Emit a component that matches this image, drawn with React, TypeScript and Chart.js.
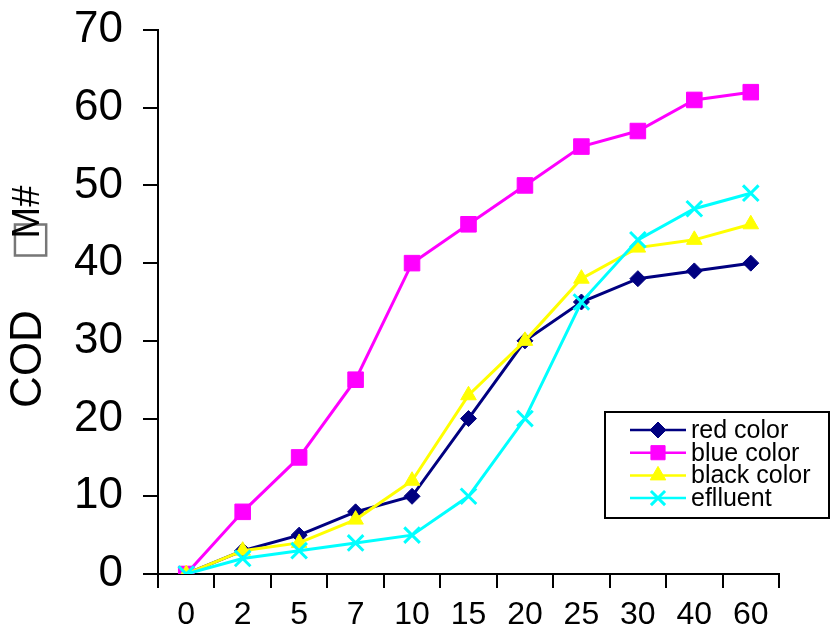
import React, { useEffect, useRef } from "react";
import { Chart, registerables } from "chart.js";

Chart.register(...registerables);

const categories = ["0", "2", "5", "7", "10", "15", "20", "25", "30", "40", "60"];
const redColor = [0, 3, 5, 8, 10, 20, 30, 35, 38, 39, 40];
const blueColor = [0, 8, 15, 25, 40, 45, 50, 55, 57, 61, 62];
const blackColor = [0, 3, 4, 7, 12, 23, 30, 38, 42, 43, 45];
const effluent = [0, 2, 3, 4, 5, 10, 20, 35, 43, 47, 49];
const seriesNames = ["red color", "blue color", "black color", "eflluent"];
const yTitleMain = "COD";
const yTitleBox = "\u25A1";
const yTitleUnit = "M#";

const FONT = "'Liberation Sans', Arial, sans-serif";

function drawPointLocal(ctx: CanvasRenderingContext2D, style: string, r: number, x: number, y: number) {
  ctx.beginPath();
  switch (style) {
    case "rectRot":
      ctx.moveTo(x, y - r);
      ctx.lineTo(x + r, y);
      ctx.lineTo(x, y + r);
      ctx.lineTo(x - r, y);
      ctx.closePath();
      ctx.fill();
      ctx.stroke();
      break;
    case "rect": {
      const s = r * Math.SQRT1_2;
      ctx.rect(x - s, y - s, 2 * s, 2 * s);
      ctx.fill();
      ctx.stroke();
      break;
    }
    case "triangle":
      ctx.moveTo(x, y - r);
      ctx.lineTo(x + r * 0.866, y + r * 0.5);
      ctx.lineTo(x - r * 0.866, y + r * 0.5);
      ctx.closePath();
      ctx.fill();
      ctx.stroke();
      break;
    case "crossRot": {
      const d = r * Math.SQRT1_2;
      ctx.moveTo(x - d, y - d);
      ctx.lineTo(x + d, y + d);
      ctx.moveTo(x + d, y - d);
      ctx.lineTo(x - d, y + d);
      ctx.stroke();
      break;
    }
  }
}

function rotText(ctx: CanvasRenderingContext2D, text: string, cx: number, cy: number, font: string, color: string) {
  ctx.save();
  ctx.translate(cx, cy);
  ctx.rotate(-Math.PI / 2);
  ctx.font = font;
  ctx.fillStyle = color;
  ctx.textAlign = "center";
  ctx.textBaseline = "middle";
  ctx.fillText(text, 0, 0);
  ctx.restore();
}

const titlePlugin = {
  id: "yTitleCustom",
  afterDraw(chart: any) {
    const ctx = chart.ctx;
    const area = chart.chartArea;
    const mid = (area.top + area.bottom) / 2;
    rotText(ctx, yTitleMain, 29, mid + 57, `44px ${FONT}`, "#000");
    rotText(ctx, yTitleBox, 31, mid - 62, `44px 'DejaVu Sans', sans-serif`, "#777");
    rotText(ctx, yTitleUnit, 29, mid - 90, `38px ${FONT}`, "#000");
  },
};

const legendPlugin = {
  id: "boxLegend",
  afterDraw(chart: any) {
    const ctx = chart.ctx;
    const x0 = 605, y0 = 412, w = 224, h = 106;
    ctx.save();
    ctx.fillStyle = "#fff";
    ctx.fillRect(x0, y0, w, h);
    ctx.strokeStyle = "#000";
    ctx.lineWidth = 2;
    ctx.strokeRect(x0, y0, w, h);
    chart.data.datasets.forEach((ds: any, i: number) => {
      const y = 430 + i * 22.7;
      ctx.strokeStyle = ds.borderColor;
      ctx.lineWidth = 2.5;
      ctx.beginPath();
      ctx.moveTo(630, y);
      ctx.lineTo(686, y);
      ctx.stroke();
      ctx.fillStyle = ds.pointBackgroundColor;
      ctx.strokeStyle = ds.pointBorderColor;
      ctx.lineWidth = ds.pointBorderWidth || 1;
      drawPointLocal(ctx, ds.pointStyle, Math.min(ds.pointRadius, 10), 658, y);
      ctx.fillStyle = "#000";
      ctx.font = `25px ${FONT}`;
      ctx.textBaseline = "middle";
      ctx.textAlign = "left";
      ctx.fillText(ds.label, 691, y + 1);
    });
    ctx.restore();
  },
};

export default function App() {
  const ref = useRef<HTMLCanvasElement>(null);
  useEffect(() => {
    if (!ref.current) return;
    const mk = (label: string, data: number[], color: string, style: string, r: number, bw: number, order: number) => ({
      label,
      data,
      borderColor: color,
      backgroundColor: color,
      pointBackgroundColor: color,
      pointBorderColor: color,
      pointStyle: style,
      pointRadius: r,
      pointBorderWidth: bw,
      borderWidth: 3,
      order,
    });
    const chart = new Chart(ref.current, {
      type: "line",
      data: {
        labels: categories,
        datasets: [
          mk(seriesNames[0], redColor, "#000080", "rectRot", 8, 1, 3),
          mk(seriesNames[1], blueColor, "#FF00FF", "rect", 11, 1, 2),
          mk(seriesNames[2], blackColor, "#FFFF00", "triangle", 9, 1, 1),
          mk(seriesNames[3], effluent, "#00FFFF", "crossRot", 11, 3, 0),
        ] as any,
      },
      options: {
        animation: false,
        responsive: false,
        maintainAspectRatio: false,
        layout: { padding: { top: 30, right: 52, left: 0, bottom: 0 } },
        plugins: {
          legend: { display: false },
          tooltip: { enabled: false },
        },
        elements: { line: { tension: 0 } },
        scales: {
          x: {
            type: "category",
            offset: true,
            grid: {
              display: true,
              drawOnChartArea: false,
              drawTicks: true,
              tickLength: 14,
              color: "#000",
              lineWidth: 2,
              offset: true,
            },
            border: { display: true, color: "#000", width: 2 },
            ticks: {
              color: "#000",
              font: { family: FONT, size: 32 },
              padding: 8,
              maxRotation: 0,
              autoSkip: false,
            },
            afterFit: (s: any) => {
              s.height = 64;
              s.paddingLeft = 0;
              s.paddingRight = 0;
            },
          },
          y: {
            min: 0,
            max: 70,
            grid: {
              display: true,
              drawOnChartArea: false,
              drawTicks: true,
              tickLength: 15,
              color: "#000",
              lineWidth: 2,
            },
            border: { display: true, color: "#000", width: 2 },
            ticks: {
              stepSize: 10,
              color: "#000",
              font: { family: FONT, size: 44 },
              padding: 20,
              autoSkip: false,
            },
            title: { display: false },
            afterFit: (s: any) => {
              s.width = 158;
              s.paddingTop = 0;
              s.paddingBottom = 0;
            },
          },
        },
      },
      plugins: [titlePlugin, legendPlugin],
    });
    return () => chart.destroy();
  }, []);
  return (
    <div style={{ position: "fixed", left: 0, top: 0, width: 831, height: 638, background: "#fff" }}>
      <canvas ref={ref} width={831} height={638} style={{ display: "block" }} />
    </div>
  );
}
